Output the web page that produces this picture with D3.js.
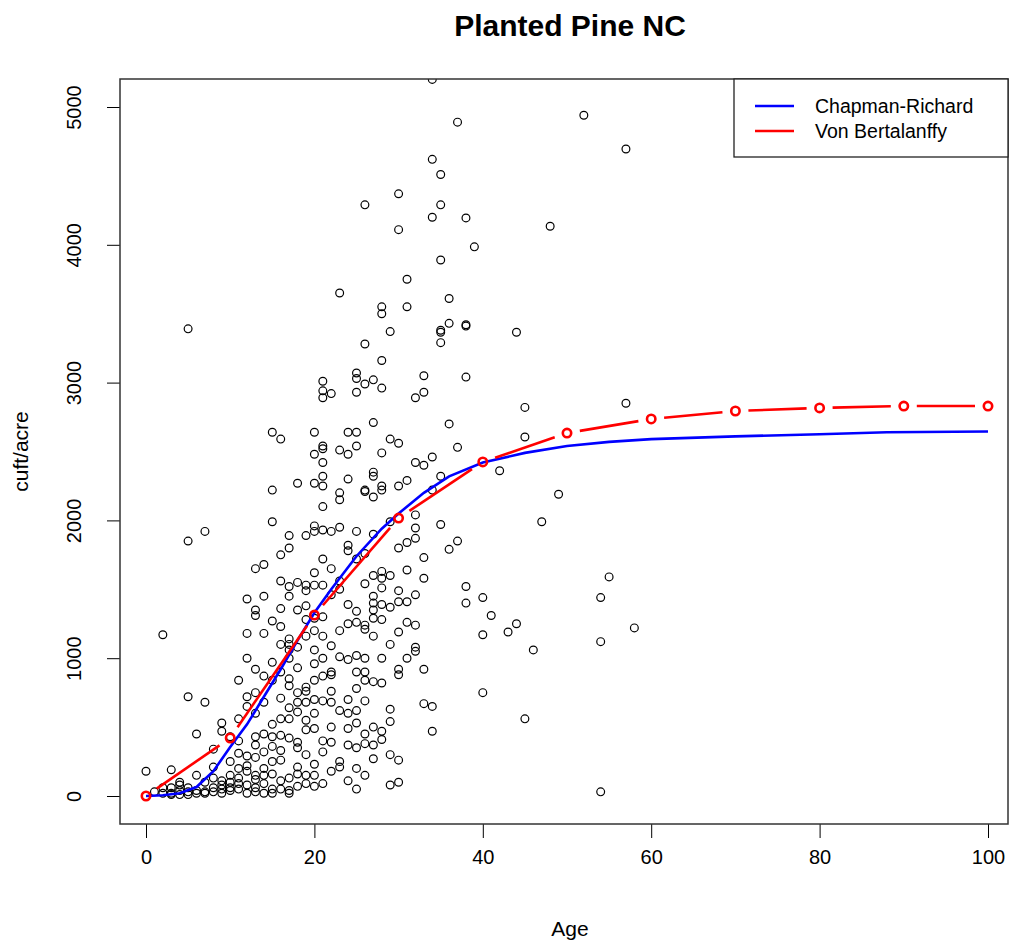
<!DOCTYPE html>
<head>
  <meta charset="utf-8">
  <script src="https://d3js.org/d3.v7.min.js"></script>
  <style>
    body { margin:0; background:#fff; }
    svg { display:block; }
    text { font-family: "Liberation Sans", Arial, sans-serif; fill:#000; }
  </style>
</head>
<body>
<div id="chart"></div>
<script>

// observed plots: [age, [cuft/acre values at that age]]
var obsByAge = [
  [0,[180,0]], [1,[30]], [2,[1170,20,60]], [3,[190,60,20,10]], [4,[80,40,10,100]],
  [5,[3390,1850,720,60,30,10]], [6,[450,150,40,20]], [7,[1920,680,100,30,20]],
  [8,[340,210,130,60,30]], [9,[530,470,110,80,50,20]], [10,[430,250,150,100,60,40]],
  [11,[840,560,400,310,200,130,90,50]],
  [12,[1430,1180,1000,720,650,290,220,180,80,20]],
  [13,[1650,1350,1310,920,750,600,430,370,280,150,120,60,30]],
  [14,[1680,1450,1180,870,680,450,320,200,150,90,20]],
  [15,[2640,2220,1990,1270,970,840,520,430,360,250,160,50,20]],
  [16,[2590,1750,1560,1360,1230,1100,900,710,560,440,330,260,110,50]],
  [17,[1890,1800,1520,1450,1140,1100,1060,1000,850,800,640,560,420,130,40,20]],
  [18,[2270,1550,1350,1080,930,750,680,610,390,350,210,160,70]],
  [19,[1890,1530,1490,1380,1280,1160,790,760,680,550,480,300,150,90]],
  [20,[2640,2480,2270,1960,1920,1620,1530,1310,1290,1200,1060,960,840,700,600,490,230,150,70]],
  [21,[3010,2940,2890,2540,2520,2420,2320,2250,2100,1930,1720,1530,1300,1160,1000,870,690,400,320,90]],
  [22,[2920,1920,1650,1460,1090,900,880,760,680,500,390,180]],
  [23,[3650,2510,2200,2150,1950,1560,1500,1200,1010,620,250,210]],
  [24,[2640,2480,2300,1820,1780,1390,1250,990,700,600,490,370,110]],
  [25,[3070,3030,2930,2640,2540,1920,1720,1340,1260,1020,900,780,620,530,350,200,50]],
  [26,[4290,3280,2990,2220,2210,1760,1540,1240,1210,1000,900,840,690,450,380,150]],
  [27,[3020,2710,2350,2320,2170,1900,1600,1450,1400,1350,1290,1160,830,500,370,270]],
  [28,[3550,3500,3160,2960,2490,2250,2220,1630,1580,1510,1390,1280,1000,820,470,410]],
  [29,[3370,2590,1990,1600,1370,1100,630,540,300,80]],
  [30,[4370,4110,2560,2250,1800,1490,1410,1190,920,880,260,100]],
  [31,[3750,3550,2290,1840,1640,1410,1260,1000]],
  [32,[2890,2420,2040,1945,1870,1460,1240,1080,1050]],
  [33,[3050,2930,2400,1730,1580,920,670]],
  [34,[5200,4620,4200,2460,2220,650,470]],
  [35,[4510,4290,3890,3380,3365,3290,2320,1970]],
  [36,[3610,3430,2700,1790]],
  [37,[4890,2530,1850]],
  [38,[4195,3420,3410,3040,1520,1400]],
  [39,[3985]], [40,[1440,1170,750]], [41,[1310]], [42,[2360]], [43,[1190]],
  [44,[3365,1250]], [45,[2820,2605,560]], [46,[1060]], [47,[1990]], [48,[4135]],
  [49,[2190]], [52,[4940]], [54,[1440,1120,30]], [55,[1590]], [57,[4695,2850]], [58,[1220]]
];

// Chapman-Richard fitted curve
var crAge = [0, 2, 4, 6, 8, 10, 12, 14, 16, 18, 20, 22, 25, 28, 30, 33, 36, 40, 45, 50, 55, 60, 70, 80, 88, 100];
var crVol = [0, 5, 20, 65, 180, 355, 520, 720, 920, 1130, 1330, 1500, 1740, 1940, 2050, 2200, 2320, 2420, 2490, 2540, 2570, 2590, 2610, 2625, 2640, 2645];

// Von Bertalanffy fitted curve
var vbAge = [0, 10, 20, 30, 40, 50, 60, 70, 80, 90, 100];
var vbVol = [0, 421, 1313, 2017, 2424, 2634, 2736, 2794, 2816, 2830, 2830];

var xTicks = [0, 20, 40, 60, 80, 100];
var yTicks = [0, 1000, 2000, 3000, 4000, 5000];
var legendLabels = ["Chapman-Richard", "Von Bertalanffy"];
var legendColors = ["#0000ff", "#ff0000"];

var width = 1011, height = 943;
var box = {left: 120, right: 1008, top: 79, bottom: 824};

var svg = d3.select("#chart").append("svg")
    .attr("width", width)
    .attr("height", height);

var x = d3.scaleLinear().domain([0, 100]).range([146, 988]);
var y = d3.scaleLinear().domain([0, 5000]).range([796, 107]);

svg.append("clipPath").attr("id", "clip")
  .append("rect")
    .attr("x", box.left).attr("y", box.top)
    .attr("width", box.right - box.left).attr("height", box.bottom - box.top);

// title
svg.append("text")
    .attr("x", 570).attr("y", 36)
    .attr("text-anchor", "middle")
    .style("font-weight", "bold")
    .style("font-size", "30px")
    .text("Planted Pine NC");

// x axis
var xAxis = d3.axisBottom(x).tickValues(xTicks).tickSize(14).tickPadding(12);
var gx = svg.append("g").attr("transform", "translate(0," + box.bottom + ")").call(xAxis);
gx.select(".domain").remove();
gx.selectAll("line").attr("stroke", "#000");
gx.selectAll("text").style("font-size", "20px").attr("font-family", null);

// y axis (labels rotated like base R)
var yAxis = d3.axisLeft(y).tickValues(yTicks).tickSize(13).tickFormat(d3.format("d"));
var gy = svg.append("g").attr("transform", "translate(" + box.left + ",0)").call(yAxis);
gy.select(".domain").remove();
gy.selectAll("line").attr("stroke", "#000");
gy.selectAll("text")
    .attr("x", null).attr("dy", null)
    .attr("text-anchor", "middle")
    .attr("transform", "translate(-39,0) rotate(-90)")
    .attr("font-family", null)
    .style("font-size", "20px");

// axis titles
svg.append("text")
    .attr("x", 570).attr("y", 936)
    .attr("text-anchor", "middle")
    .style("font-size", "21px")
    .text("Age");
svg.append("text")
    .attr("transform", "translate(28," + ((box.top + box.bottom) / 2) + ") rotate(-90)")
    .attr("text-anchor", "middle")
    .style("font-size", "21px")
    .text("cuft/acre");

var plot = svg.append("g").attr("clip-path", "url(#clip)");

// scatter
var obs = [];
obsByAge.forEach(function(d) {
  d[1].forEach(function(v) { obs.push({age: d[0], vol: v}); });
});
plot.selectAll("circle.obs")
    .data(obs)
  .enter().append("circle")
    .attr("class", "obs")
    .attr("cx", function(d) { return x(d.age); })
    .attr("cy", function(d) { return y(d.vol); })
    .attr("r", 3.9)
    .attr("fill", "none")
    .attr("stroke", "#000")
    .attr("stroke-width", 1.2);

// Chapman-Richard line
var line = d3.line()
    .x(function(d) { return x(d[0]); })
    .y(function(d) { return y(d[1]); });

plot.append("path")
    .datum(d3.zip(crAge, crVol))
    .attr("d", line)
    .attr("fill", "none")
    .attr("stroke", "#0000ff")
    .attr("stroke-width", 2.6);

// Von Bertalanffy: points joined by segments with gaps (type = "b")
var vb = d3.zip(vbAge, vbVol).map(function(d) { return [x(d[0]), y(d[1])]; });
var gap = 13;
for (var i = 0; i < vb.length - 1; i++) {
  var p = vb[i], q = vb[i + 1];
  var dx = q[0] - p[0], dy = q[1] - p[1];
  var len = Math.sqrt(dx * dx + dy * dy);
  if (len <= 2 * gap) continue;
  var ux = dx / len, uy = dy / len;
  plot.append("line")
      .attr("x1", p[0] + ux * gap).attr("y1", p[1] + uy * gap)
      .attr("x2", q[0] - ux * gap).attr("y2", q[1] - uy * gap)
      .attr("stroke", "#ff0000")
      .attr("stroke-width", 2.6);
}
plot.selectAll("circle.vb")
    .data(vb)
  .enter().append("circle")
    .attr("class", "vb")
    .attr("cx", function(d) { return d[0]; })
    .attr("cy", function(d) { return d[1]; })
    .attr("r", 4.2)
    .attr("fill", "none")
    .attr("stroke", "#ff0000")
    .attr("stroke-width", 2.6);

// plot frame
svg.append("rect")
    .attr("x", box.left).attr("y", box.top)
    .attr("width", box.right - box.left).attr("height", box.bottom - box.top)
    .attr("fill", "none")
    .attr("stroke", "#333")
    .attr("stroke-width", 1.5);

// legend
var lg = svg.append("g");
lg.append("rect")
    .attr("x", 734).attr("y", box.top)
    .attr("width", box.right - 734).attr("height", 78)
    .attr("fill", "#fff")
    .attr("stroke", "#222")
    .attr("stroke-width", 1.3);
legendLabels.forEach(function(lab, i) {
  var ly = 106 + i * 25;
  lg.append("line")
      .attr("x1", 755).attr("x2", 794)
      .attr("y1", ly).attr("y2", ly)
      .attr("stroke", legendColors[i])
      .attr("stroke-width", 2.6);
  lg.append("text")
      .attr("x", 815).attr("y", ly + 7)
      .style("font-size", "19.5px")
      .text(lab);
});

</script>
</body>
